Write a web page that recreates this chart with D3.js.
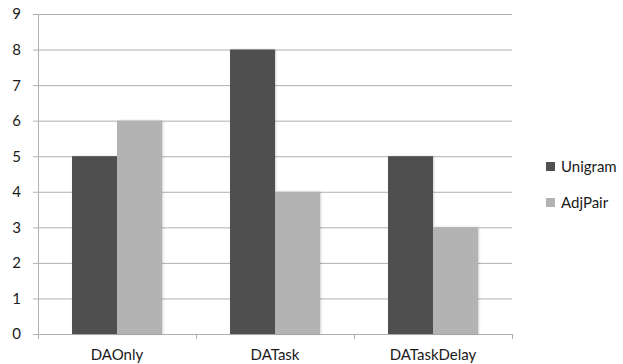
<!DOCTYPE html>
<html>
<head>
<meta charset="utf-8">
<script src="https://cdn.jsdelivr.net/npm/d3@7"></script>
<style>
  body { margin: 0; background: #fff; }
  svg text { font-family: Lato, "Open Sans", sans-serif; fill: #1a1a1a; }
</style>
</head>
<body>
<svg id="chart" width="623" height="364"></svg>
<script>
const categories = ["DAOnly", "DATask", "DATaskDelay"];
const seriesNames = ["Unigram", "AdjPair"];
const unigram = [5, 8, 5];
const adjPair = [6, 4, 3];
const yTicks = [0, 1, 2, 3, 4, 5, 6, 7, 8, 9];
const colors = ["#505050", "#b3b3b3"];

const svg = d3.select("#chart");
const plot = { left: 38, right: 512, top: 14, bottom: 334 };

const x = d3.scaleBand().domain(categories).range([plot.left, plot.right]).paddingInner(0).paddingOuter(0);
const x1 = d3.scaleBand().domain(seriesNames).range([0, x.bandwidth()]).paddingInner(0).paddingOuter(0.756);
const y = d3.scaleLinear().domain([0, 9]).range([plot.bottom, plot.top]);

// soft shadow for bars
const defs = svg.append("defs");
const f = defs.append("filter").attr("id", "shadow").attr("x", "-20%").attr("y", "-5%").attr("width", "140%").attr("height", "110%");
f.append("feDropShadow").attr("dx", 1).attr("dy", 0).attr("stdDeviation", 1.2).attr("flood-color", "#000").attr("flood-opacity", 0.18);

// gridlines
svg.append("g").selectAll("line").data(yTicks).join("line")
  .attr("x1", plot.left - 5).attr("x2", plot.right)
  .attr("y1", d => y(d) + 0.5).attr("y2", d => y(d) + 0.5)
  .attr("stroke", "#b0b0b0").attr("stroke-width", 1);

// y axis line
svg.append("line").attr("x1", plot.left + 0.5).attr("x2", plot.left + 0.5).attr("y1", plot.top).attr("y2", plot.bottom)
  .attr("stroke", "#b0b0b0");

// x axis ticks at category boundaries
const bounds = [plot.left].concat(categories.map(c => x(c) + x.bandwidth()));
svg.append("g").selectAll("line").data(bounds).join("line")
  .attr("x1", d => d + 0.5).attr("x2", d => d + 0.5)
  .attr("y1", plot.bottom).attr("y2", plot.bottom + 5)
  .attr("stroke", "#b0b0b0");

// y tick labels
svg.append("g").selectAll("text").data(yTicks).join("text")
  .attr("x", 21).attr("y", d => y(d)).attr("dy", "0.36em")
  .attr("text-anchor", "end").attr("font-size", 15).text(d => d);

// bars
const rows = categories.map((c, i) => ({ c, vals: [unigram[i], adjPair[i]] }));
const g = svg.append("g").attr("filter", "url(#shadow)");
rows.forEach(r => {
  r.vals.forEach((v, j) => {
    g.append("rect")
      .attr("x", x(r.c) + x1(seriesNames[j]))
      .attr("width", x1.bandwidth())
      .attr("y", y(v)).attr("height", y(0) - y(v))
      .attr("fill", colors[j]);
  });
});

// category labels
svg.append("g").selectAll("text").data(categories).join("text")
  .attr("x", d => x(d) + x.bandwidth() / 2).attr("y", 360)
  .attr("text-anchor", "middle").attr("font-size", 15).text(d => d);

// legend
const lg = svg.append("g");
seriesNames.forEach((s, i) => {
  const yy = 162 + i * 36;
  lg.append("rect").attr("x", 546).attr("y", yy).attr("width", 9).attr("height", 9).attr("fill", colors[i]);
  lg.append("text").attr("x", 561).attr("y", yy + 4.5).attr("dy", "0.36em").attr("font-size", 15).text(s);
});
</script>
</body>
</html>
